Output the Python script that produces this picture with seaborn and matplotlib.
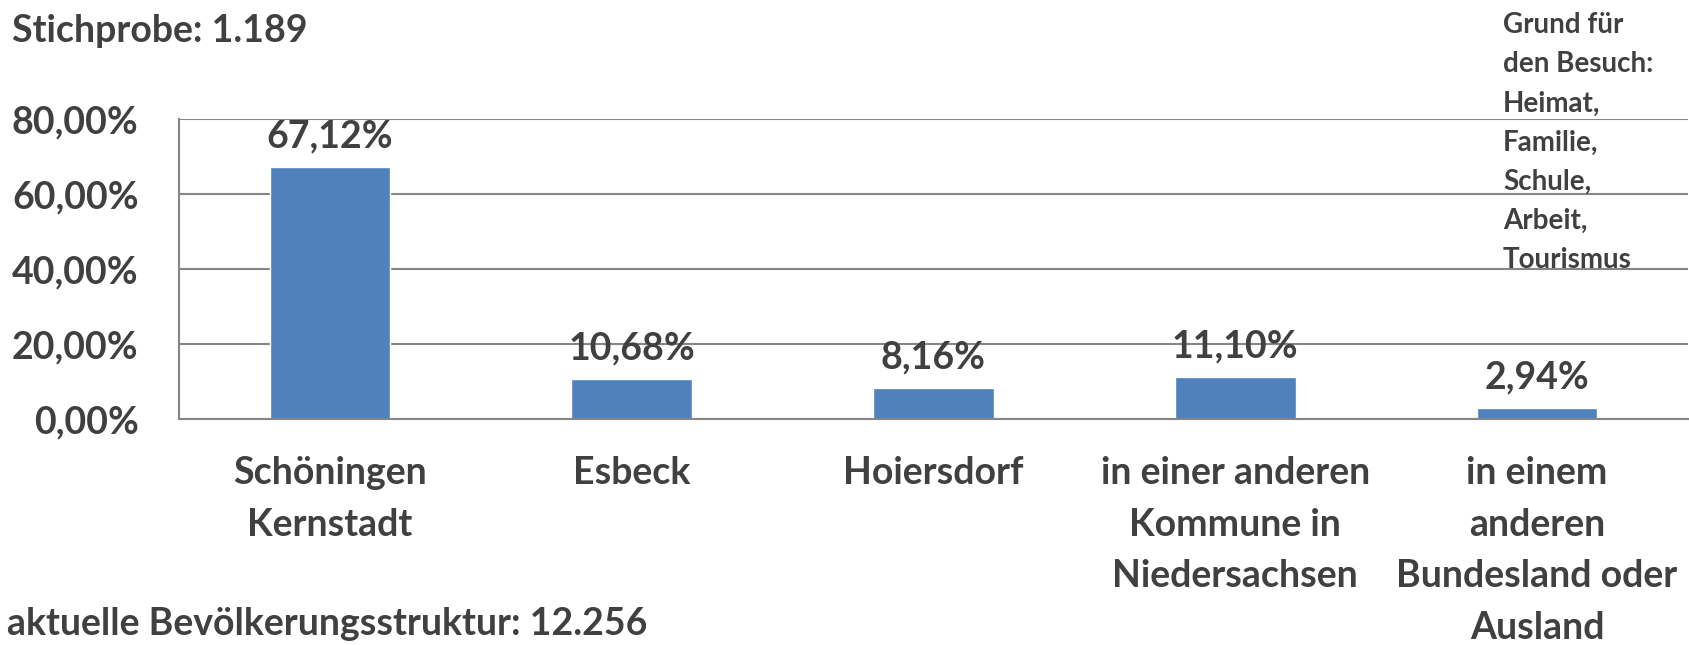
import numpy as np
import pandas as pd
import seaborn as sns
import matplotlib.pyplot as plt
from matplotlib.ticker import FuncFormatter

categories = ['Schöningen\nKernstadt', 'Esbeck', 'Hoiersdorf',
              'in einer anderen\nKommune in\nNiedersachsen',
              'in einem\nanderen\nBundesland oder\nAusland']
values = [67.12, 10.68, 8.16, 11.10, 2.94]
y_ticks = [0, 20, 40, 60, 80]

title_top = 'Stichprobe: 1.189'
title_bottom = 'aktuelle Bevölkerungsstruktur: 12.256'
note = 'Grund für\nden Besuch:\nHeimat,\nFamilie,\nSchule,\nArbeit,\nTourismus'

sns.set_theme(style='white')
plt.rcParams['font.family'] = ['Lato', 'DejaVu Sans']
plt.rcParams['font.weight'] = 'bold'

txt = '#404040'
grid = '#868686'
blue = '#4F81BD'
fs = 27

df = pd.DataFrame({'cat': categories, 'val': values})

fig = plt.figure(figsize=(16.9, 6.45), dpi=100)
ax = fig.add_axes([179/1690, 1 - 419/645, 1509/1690, 300/645])

sns.barplot(data=df, x='cat', y='val', color=blue, width=0.4, saturation=1, ax=ax)

ax.set_ylim(0, 80)
ax.set_xlim(-0.5, len(categories) - 0.5)
ax.set_yticks(y_ticks)
ax.yaxis.set_major_formatter(FuncFormatter(lambda v, p: f'{v:.2f}%'.replace('.', ',')))
ax.yaxis.grid(True, color=grid, linewidth=1.5)
ax.set_axisbelow(True)
ax.set_xlabel('')
ax.set_ylabel('')

for s in ['top', 'right']:
    ax.spines[s].set_visible(False)
for s in ['left', 'bottom']:
    ax.spines[s].set_color(grid)
    ax.spines[s].set_linewidth(1.5)

ax.tick_params(axis='y', length=0, pad=29, labelsize=fs, labelcolor=txt)
ax.tick_params(axis='x', length=0, pad=27, labelsize=fs, labelcolor=txt)
for lab in ax.get_xticklabels():
    lab.set_linespacing(1.62)
    lab.set_fontweight('bold')
for lab in ax.get_yticklabels():
    lab.set_fontweight('bold')

for i, v in enumerate(values):
    ax.annotate(f'{v:.2f}%'.replace('.', ','), (i, v), xytext=(0, 14),
                textcoords='offset points', ha='center', va='baseline',
                fontsize=fs, fontweight='bold', color=txt)

fig.text(12/1690, 1 - 42/645, title_top, fontsize=fs, fontweight='bold',
         color=txt, va='baseline', ha='left')
fig.text(7/1690, 1 - 635/645, title_bottom, fontsize=fs, fontweight='bold',
         color=txt, va='baseline', ha='left')
fig.text(1503/1690, 1 - 12/645, note, fontsize=20, fontweight='bold',
         color=txt, va='top', ha='left', linespacing=1.63)

fig.savefig('out.png', dpi=100, facecolor='white')
